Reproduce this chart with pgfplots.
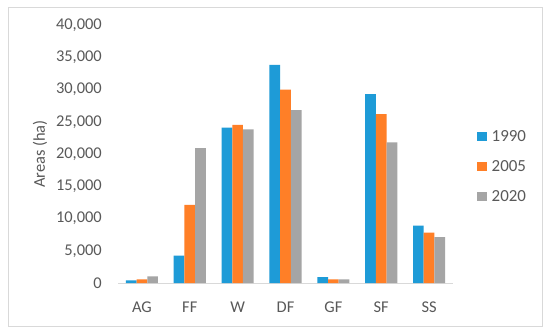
\documentclass[border=0pt]{standalone}
\usepackage{pgfplots}
\pgfplotsset{compat=1.18}
\usepackage{fontspec}
\setmainfont{Carlito}
\definecolor{c1990}{HTML}{1E9BD7}
\definecolor{c2005}{HTML}{FF7F27}
\definecolor{c2020}{HTML}{A5A5A5}
\definecolor{txt}{HTML}{595959}
\newcommand{\sq}[1]{\textcolor{#1}{\rule{9.5bp}{9.5bp}}\hspace{5bp}}
\begin{document}
\begin{tikzpicture}[x=1bp,y=1bp]
\fill[white] (0,0) rectangle (550,335);
\draw[color=black!15, line width=0.8bp] (8,9) rectangle (542,328);
\begin{axis}[
  at={(118bp,52bp)}, anchor=south west,
  scale only axis, width=335bp, height=258bp,
  xmin=-0.5, xmax=6.5, ymin=0, ymax=40000,
  ybar=0pt, bar width=10.7bp,
  axis lines*=left,
  x axis line style={color=black!15, line width=0.8bp},
  y axis line style={draw=none},
  major tick length=0pt,
  xtick={0,1,2,3,4,5,6},
  xticklabels={AG,FF,W,DF,GF,SF,SS},
  ytick={0,5000,...,40000},
  scaled y ticks=false,
  /pgf/number format/.cd, 1000 sep={,}, assume math mode=true, /pgfplots/.cd,
  ticklabel style={font=\fontsize{16.5}{19}\selectfont, color=txt, inner sep=0pt},
  yticklabel style={anchor=east, xshift=-16bp},
  xticklabel style={anchor=north, yshift=-19bp},
  ylabel={Areas (ha)},
  ylabel style={at={(axis description cs:-0.2328,0.5)}, anchor=center, font=\fontsize{16.5}{19}\selectfont, color=txt},
  legend style={draw=none, fill=none, at={(axis description cs:1,0.457)}, anchor=west, xshift=24bp,
    font=\fontsize{17}{19}\selectfont, text=txt, nodes={inner sep=0pt, text height=12bp, text depth=0pt},
    row sep=18bp, inner sep=0pt},
  legend cell align=left,
  legend image code/.code={},
  every odd column/.style={column sep=0pt},
]
\addplot[fill=c1990, draw=none] coordinates {(0,400) (1,4230) (2,24100) (3,33800) (4,930) (5,29300) (6,8900)};
\addplot[fill=c2005, draw=none] coordinates {(0,570) (1,12100) (2,24500) (3,30000) (4,570) (5,26200) (6,7800)};
\addplot[fill=c2020, draw=none] coordinates {(0,1040) (1,20900) (2,23800) (3,26800) (4,570) (5,21800) (6,7100)};
\legend{\sq{c1990}1990,\sq{c2005}2005,\sq{c2020}2020}
\end{axis}
\end{tikzpicture}
\end{document}
